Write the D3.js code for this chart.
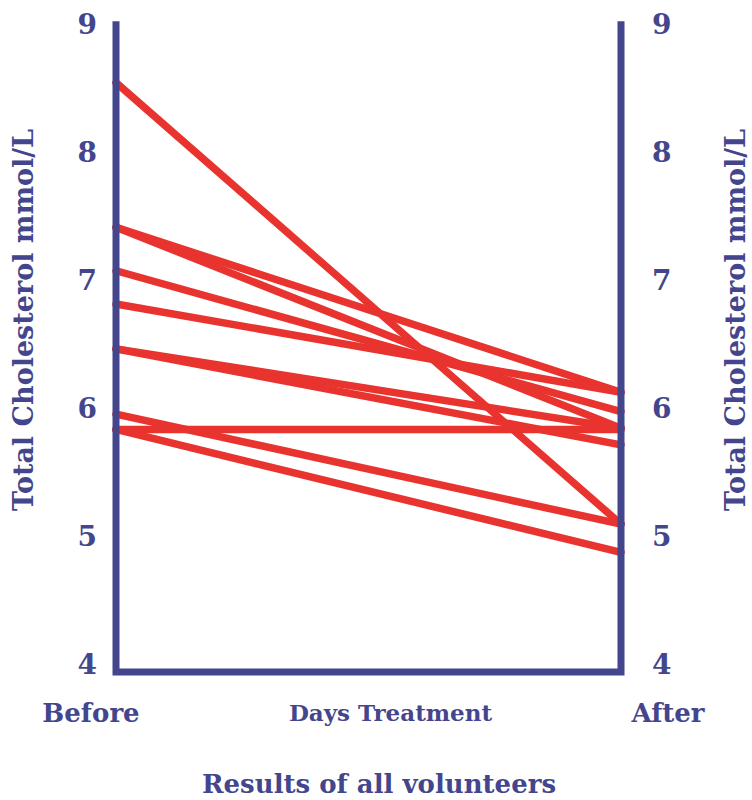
<!DOCTYPE html>
<html>
<head>
<meta charset="utf-8">
<script src="https://cdn.jsdelivr.net/npm/d3@7"></script>
<style>
  html, body { margin: 0; padding: 0; background: #ffffff; }
  svg { display: block; }
  text { font-family: "DejaVu Serif", serif; font-weight: bold; fill: #43468c; }
</style>
</head>
<body>
<script>
// ---- data ----
const categories = ["Before", "After"];
const beforeValues = [8.55, 7.42, 7.42, 7.08, 6.82, 6.47, 6.47, 5.96, 5.84, 5.84];
const afterValues  = [5.10, 6.13, 5.85, 5.98, 6.13, 5.85, 5.72, 5.10, 5.84, 4.88];
const tickValues = [4, 5, 6, 7, 8, 9];
const yTitle = "Total Cholesterol mmol/L";
const xTitle = "Days Treatment";
const chartTitle = "Results of all volunteers";

(function () {
const W = 752, H = 800;
const navy = "#43468c", red = "#e8332f";

const svg = d3.select("body").append("svg").attr("width", W).attr("height", H);

const x = d3.scalePoint().domain(categories).range([116, 621]);
const y = d3.scaleLinear().domain([4, 9]).range([665, 25]);

const volunteers = beforeValues.map((b, i) => ({ before: b, after: afterValues[i] }));

// lines
const line = d3.line().x(d => x(d[0])).y(d => y(d[1]));
svg.append("g").selectAll("path")
  .data(volunteers)
  .join("path")
  .attr("d", d => line([["Before", d.before], ["After", d.after]]))
  .attr("fill", "none")
  .attr("stroke", red)
  .attr("stroke-width", 7.5)
  .attr("stroke-linecap", "round");

// frame (left axis, bottom, right axis)
const yTop = y(9.03), yBottom = y(3.945);
svg.append("path")
  .attr("d", `M${x("Before")},${yTop}V${yBottom}H${x("After")}V${yTop}`)
  .attr("fill", "none")
  .attr("stroke", navy)
  .attr("stroke-width", 7)
  .attr("stroke-linejoin", "miter")
  .attr("stroke-linecap", "butt");

// tick labels left & right
const leftAxis = d3.axisLeft(y).tickValues(tickValues).tickSize(0).tickPadding(0).tickFormat(d3.format("d"));
const gl = svg.append("g").attr("transform", `translate(${x("Before") - 19},0)`).call(leftAxis);
gl.select(".domain").remove();
gl.selectAll("text").attr("font-size", 28).attr("font-family", "DejaVu Serif").attr("font-weight", "bold")
  .attr("fill", navy);

const rightAxis = d3.axisRight(y).tickValues(tickValues).tickSize(0).tickPadding(0).tickFormat(d3.format("d"));
const gr = svg.append("g").attr("transform", `translate(${x("After") + 31},0)`).call(rightAxis);
gr.select(".domain").remove();
gr.selectAll("text").attr("font-size", 28).attr("font-family", "DejaVu Serif").attr("font-weight", "bold")
  .attr("fill", navy);

// y titles
const midY = (y(9) + y(4)) / 2 - 25;
svg.append("text")
  .attr("transform", `translate(33,${midY}) rotate(-90)`)
  .attr("text-anchor", "middle").attr("font-size", 27).text(yTitle);
svg.append("text")
  .attr("transform", `translate(745,${midY}) rotate(-90)`)
  .attr("text-anchor", "middle").attr("font-size", 27).text(yTitle);

// category labels
svg.append("g").selectAll("text")
  .data(categories)
  .join("text")
  .attr("x", d => d === "Before" ? x(d) - 25 : x(d) + 47)
  .attr("y", 722)
  .attr("text-anchor", "middle")
  .attr("font-size", 26)
  .text(d => d);

svg.append("text")
  .attr("x", (x("Before") + x("After")) / 2 + 22)
  .attr("y", 721)
  .attr("text-anchor", "middle")
  .attr("font-size", 23)
  .text(xTitle);

svg.append("text")
  .attr("x", 379)
  .attr("y", 793)
  .attr("text-anchor", "middle")
  .attr("font-size", 26)
  .text(chartTitle);
})();
</script>
</body>
</html>
